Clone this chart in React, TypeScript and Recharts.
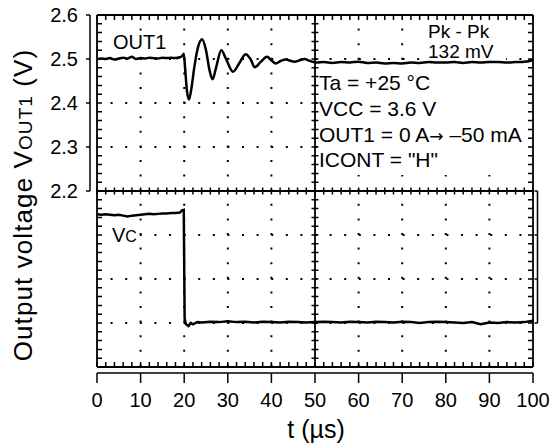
import React from 'react';
import {
  ComposedChart,
  Line,
  XAxis,
  YAxis,
  CartesianGrid,
  ReferenceLine,
  Customized,
} from 'recharts';

// OUT1 trace (V) vs time (µs)
const OUT1_T = [
  0, 1, 2, 3, 4, 5, 6, 7, 8, 9, 10, 11, 12, 13, 14, 15, 16, 17, 18, 19, 19.6, 19.9,
  20.2, 20.6, 21.1, 21.6, 22.3, 23.0, 24.1, 25.0, 25.8, 26.5, 27.3, 28.5, 29.6, 31.2,
  32.6, 34.1, 35.2, 36.2, 37.6, 39.0, 40.0, 41.0, 42.2, 43.3, 44.3, 45.3, 46.5, 47.6,
  48.5, 49.3, 50.3, 52, 54, 56, 58, 60, 62, 64, 66, 68, 70, 72, 74, 76, 78, 80, 82, 84,
  86, 88, 90, 92, 94, 96, 98, 99, 100,
];
const OUT1_V = [
  2.5, 2.501, 2.5, 2.502, 2.499, 2.501, 2.503, 2.501, 2.505, 2.5, 2.502, 2.501, 2.503,
  2.502, 2.501, 2.503, 2.502, 2.503, 2.502, 2.504, 2.507, 2.512,
  2.48, 2.43, 2.408, 2.43, 2.48, 2.52, 2.545, 2.52, 2.475, 2.454, 2.48, 2.52, 2.5, 2.471,
  2.49, 2.511, 2.5, 2.481, 2.494, 2.505, 2.497, 2.49, 2.496, 2.499, 2.496, 2.494, 2.497,
  2.5, 2.497, 2.494, 2.492, 2.493, 2.491, 2.493, 2.492, 2.494, 2.491, 2.492, 2.49, 2.491,
  2.49, 2.492, 2.491, 2.493, 2.492, 2.492, 2.493, 2.491, 2.493, 2.492, 2.493, 2.493,
  2.492, 2.493, 2.494, 2.495, 2.498,
];

// Vc trace, in screen divisions above its reference marker
const VC_T = [
  0, 1, 2, 3, 4, 5, 6, 7, 8, 9, 10, 11, 12, 13, 14, 15, 16, 17, 18, 19, 19.5, 19.9,
  20.1, 20.4, 21, 21.5, 22, 23, 24, 26, 28, 30, 32, 34, 36, 38, 40, 42, 44, 46, 48, 50,
  52, 54, 56, 58, 60, 62, 64, 66, 68, 70, 72, 74, 76, 78, 80, 82, 84, 86, 88, 90, 92, 94,
  96, 98, 100,
];
const VC_V = [
  2.47, 2.46, 2.47, 2.46, 2.45, 2.46, 2.44, 2.42, 2.44, 2.45, 2.46, 2.47, 2.48, 2.47,
  2.48, 2.49, 2.49, 2.5, 2.5, 2.51, 2.56, 2.57,
  0.1, -0.03, -0.07, 0.0, -0.03, 0.02, 0.01, 0.03, 0.02, 0.04, 0.02, 0.03, 0.01, 0.03,
  0.02, 0.01, 0.03, 0.02, 0.01, 0.02, 0.03, 0.02, 0.01, 0.03, 0.02, 0.01, 0.03, 0.02,
  0.01, 0.03, 0.02, 0.0, 0.02, 0.03, 0.02, 0.01, 0.0, 0.02, -0.03, 0.01, 0.0, 0.02, 0.01,
  0.02, 0.05,
];

const T_TICKS = [0, 10, 20, 30, 40, 50, 60, 70, 80, 90, 100];
const V_TICKS = [2.2, 2.3, 2.4, 2.5, 2.6];
const VC_TICKS = [0, 1, 2, 3];
const GRID_T = [10, 20, 30, 40, 60, 70, 80, 90];
const GRID_V = [2.5, 2.4, 2.3, 2.1, 2.0, 1.9];
const FRAME_T = [0, 50, 100];
const FRAME_V = [2.6, 2.2, 1.8];
const NOTES = ['Ta = +25 °C', 'VCC = 3.6 V', 'ICONT = "H"'];

const out1Data = OUT1_T.map((t, i) => ({ t, v: OUT1_V[i] }));
const vcData = VC_T.map((t, i) => ({ t, v: VC_V[i] }));

const W = 552;
const H = 444;
const PLOT_LEFT = 97;
const PLOT_TOP = 15;
const PLOT_W = 436;
const PLOT_H = 352;
const DIV_X = PLOT_W / 10;
const DIV_Y = PLOT_H / 8;

const frameShape = (p: any) => (
  <line x1={p.x1} y1={p.y1} x2={p.x2} y2={p.y2} stroke="#000" strokeWidth={1.8} />
);

function LeftTick({ x, y, payload }: any) {
  const ax = x - 7;
  return (
    <g stroke="#000" strokeWidth={1.5}>
      <line x1={ax - 4} y1={y} x2={ax} y2={y} />
      {payload.value < 2.55 && <line x1={ax} y1={y} x2={ax} y2={y - DIV_Y} />}
      <text x={x - 19} y={y} dy="0.36em" textAnchor="end" fontSize={20} stroke="none" fill="#000">
        {Number(payload.value).toFixed(1)}
      </text>
    </g>
  );
}

function RightTick({ x, y, payload }: any) {
  const bx = x + 4.5;
  return (
    <g stroke="#000" strokeWidth={1.5}>
      <line x1={x + 1.5} y1={y} x2={bx} y2={y} />
      {payload.value < 3 && <line x1={bx} y1={y} x2={bx} y2={y - DIV_Y} />}
    </g>
  );
}

function BottomTick({ x, y, payload }: any) {
  const ay = y + 6;
  const t = payload.value;
  return (
    <g stroke="#000" strokeWidth={1.5}>
      <line x1={x} y1={ay} x2={x} y2={ay + 10} />
      {t < 100 && <line x1={x} y1={ay} x2={x + DIV_X} y2={ay} />}
      <text x={x} y={ay + 26.5} dy="0.36em" textAnchor="middle" fontSize={20} stroke="none" fill="#000">
        {t}
      </text>
    </g>
  );
}

// oscilloscope graticule minor ticks, 5 per division:
// inward on the frame edges, crossing on the centre lines
function MinorTicks() {
  const right = PLOT_LEFT + PLOT_W;
  const bottom = PLOT_TOP + PLOT_H;
  const cx = PLOT_LEFT + PLOT_W / 2;
  const cy = PLOT_TOP + PLOT_H / 2;
  let d = '';
  for (let i = 0; i <= 50; i++) {
    const x = PLOT_LEFT + (i * DIV_X) / 5;
    d += `M${x},${PLOT_TOP}v5M${x},${bottom}v-5M${x},${cy - 3.5}v7`;
  }
  for (let j = 0; j <= 40; j++) {
    const y = PLOT_TOP + (j * DIV_Y) / 5;
    d += `M${PLOT_LEFT},${y}h5M${right},${y}h-5M${cx - 3.5},${y}h7`;
  }
  return (
    <svg
      width={W}
      height={H}
      style={{ position: 'absolute', left: 0, top: 0, pointerEvents: 'none' }}
    >
      <path d={d} stroke="#000" strokeWidth={1.5} fill="none" />
    </svg>
  );
}

function Notes() {
  return (
    <g fill="#000" fontSize={21}>
      <rect x={110} y={31} width={60} height={21} fill="#fff" />
      <rect x={424} y={20} width={82} height={40} fill="#fff" />
      <rect x={319} y={65} width={209} height={110} fill="#fff" />
      <rect x={109} y={225} width={30} height={19} fill="#fff" />
      <text x={113} y={49} fontSize={20}>OUT1</text>
      <text x={428} y={37.5} fontSize={19}>Pk - Pk</text>
      <text x={428} y={57.5} fontSize={19}>132 mV</text>
      <text x={319} y={90}>{NOTES[0]}</text>
      <text x={319} y={115.8}>{NOTES[1]}</text>
      <text x={319} y={141.6}>
        OUT1 = 0 A<tspan fontFamily="DejaVu Sans" fontSize={17}>{'\u2192'}</tspan>{' \u201350 mA'}
      </text>
      <text x={319} y={167.4}>{NOTES[2]}</text>
      <text x={112} y={242} fontSize={20}>
        V<tspan fontSize={16}>C</tspan>
      </text>
      <text x={316} y={438} textAnchor="middle" fontSize={25}>t (µs)</text>
      <text x={32} y={205} textAnchor="middle" fontSize={26} letterSpacing={1.1}
        transform="rotate(-90, 32, 205)">
        Output voltage V<tspan fontSize={19}>OUT1</tspan> (V)
      </text>
    </g>
  );
}

export default function App() {
  return (
    <div style={{ position: 'absolute', left: 0, top: 0, width: W, height: H, fontFamily: '"Liberation Sans", Arial, sans-serif' }}>
      <ComposedChart
        width={W}
        height={H}
        margin={{ top: PLOT_TOP, right: 0, bottom: 0, left: 0 }}
      >
        <XAxis
          xAxisId="t"
          type="number"
          dataKey="t"
          domain={[0, 100]}
          ticks={T_TICKS}
          interval={0}
          allowDataOverflow
          height={H - PLOT_TOP - PLOT_H}
          axisLine={false}
          tickLine={false}
          tickSize={0}
          tickMargin={0}
          tick={<BottomTick />}
        />
        <YAxis
          yAxisId="v"
          type="number"
          domain={[1.8, 2.6]}
          ticks={V_TICKS}
          interval={0}
          allowDataOverflow
          width={PLOT_LEFT}
          axisLine={false}
          tickLine={false}
          tickSize={0}
          tickMargin={0}
          tick={<LeftTick />}
        />
        <YAxis
          yAxisId="vc"
          orientation="right"
          type="number"
          domain={[-1, 7]}
          ticks={VC_TICKS}
          interval={0}
          allowDataOverflow
          width={W - PLOT_LEFT - PLOT_W}
          axisLine={false}
          tickLine={false}
          tickSize={0}
          tickMargin={0}
          tick={<RightTick />}
        />

        <CartesianGrid
          xAxisId="t"
          yAxisId="v"
          verticalValues={GRID_T}
          horizontalValues={GRID_V}
          stroke="#000"
          strokeWidth={2}
          strokeDasharray="2 12.6"
          strokeDashoffset={1}
        />
        <Customized component={<Notes />} />

        {FRAME_T.map((t) => (
          <ReferenceLine key={'ft' + t} xAxisId="t" yAxisId="v" x={t} shape={frameShape} />
        ))}
        {FRAME_V.map((v) => (
          <ReferenceLine key={'fv' + v} xAxisId="t" yAxisId="v" y={v} shape={frameShape} />
        ))}

        <Line
          xAxisId="t"
          yAxisId="v"
          data={out1Data}
          dataKey="v"
          type="monotone"
          dot={false}
          stroke="#000"
          strokeWidth={2.5}
          isAnimationActive={false}
        />
        <Line
          xAxisId="t"
          yAxisId="vc"
          data={vcData}
          dataKey="v"
          type="linear"
          dot={false}
          stroke="#000"
          strokeWidth={2.5}
          isAnimationActive={false}
        />
      </ComposedChart>
      <MinorTicks />
    </div>
  );
}
